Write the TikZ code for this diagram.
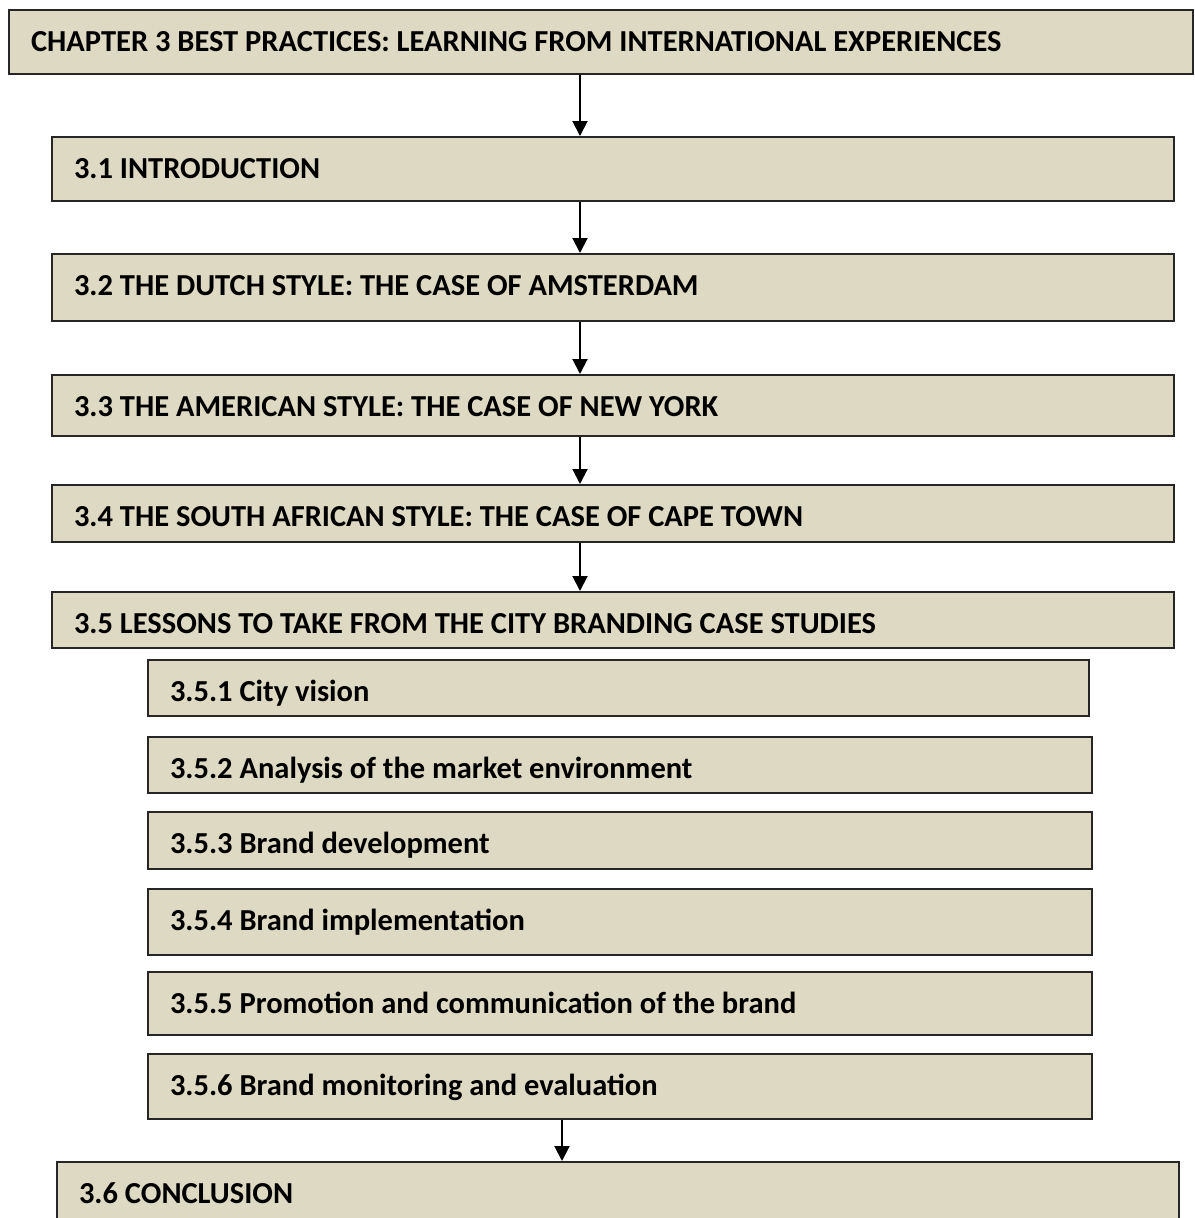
\documentclass[tikz,border=0pt]{standalone}
\usepackage{fontspec}
\setmainfont{Carlito}
\usepackage{xcolor}
\usepackage{tikz}
\usetikzlibrary{arrows.meta, positioning}
\definecolor{tanfill}{RGB}{221,217,195}
\definecolor{rimgray}{RGB}{38,38,38}

\begin{document}
\begin{tikzpicture}[
    x=1pt, y=-1pt,
    font=\fontsize{30.5}{36}\selectfont\bfseries,
    box/.style={rectangle, draw=rimgray, line width=2pt, fill=tanfill,
                anchor=north west, inner xsep=22pt, inner ysep=0pt,
                text height=41pt, align=flush left},
    chapbox/.style={box, text width=1140pt},
    secbox/.style={box, text width=1078pt},
    subbox/.style={box, text width=900pt},
    arr/.style={-{Triangle[length=15pt,width=15pt]}, line width=2pt, black}
]
\useasboundingbox (0,0) rectangle (1194,1218);
\coordinate (spine) at (580,0);
\coordinate (tail)  at (562,0);
\node[chapbox, text depth=23pt] (chap) at (8,9)
     {CHAPTER 3 BEST PRACTICES: LEARNING FROM INTERNATIONAL EXPERIENCES};
\node[secbox, text depth=23pt] (intro)    at (51,136) {3.1 INTRODUCTION};
\node[secbox, text depth=26pt] (dutch)    at (51,253) {3.2 THE DUTCH STYLE: THE CASE OF AMSTERDAM};
\node[secbox, text depth=20pt] (usa)      at (51,374) {3.3 THE AMERICAN STYLE: THE CASE OF NEW YORK};
\node[secbox, text depth=16pt] (capetown) at (51,484) {3.4 THE SOUTH AFRICAN STYLE: THE CASE OF CAPE TOWN};
\node[secbox, text depth=15pt] (lessons)  at (51,591) {3.5 LESSONS TO TAKE FROM THE CITY BRANDING CASE STUDIES};
\node[subbox, text width=897pt, text depth=15pt] (vision) at (147,659) {3.5.1 City vision};
\node[subbox, text depth=15pt] (market)    at (147,736)  {3.5.2 Analysis of the market environment};
\node[subbox, text depth=16pt] (develop)   at (147,811)  {3.5.3 Brand development};
\node[subbox, text depth=25pt] (implement) at (147,888)  {3.5.4 Brand implementation};
\node[subbox, text depth=22pt] (promo)     at (147,971)  {3.5.5 Promotion and communication of the brand};
\node[subbox, text depth=24pt] (monitor)   at (147,1053) {3.5.6 Brand monitoring and evaluation};
\node[secbox, text depth=23pt] (concl)     at (56,1161)  {3.6 CONCLUSION};
% flow down the chapter
\draw[arr] (chap.south -| spine) -- (intro.north -| spine);
\draw[arr] (intro.south -| spine) -- (dutch.north -| spine);
\draw[arr] (dutch.south -| spine) -- (usa.north -| spine);
\draw[arr] (usa.south -| spine) -- (capetown.north -| spine);
\draw[arr] (capetown.south -| spine) -- (lessons.north -| spine);
\draw[arr] (monitor.south -| tail) -- (concl.north -| tail);
\end{tikzpicture}
\end{document}
